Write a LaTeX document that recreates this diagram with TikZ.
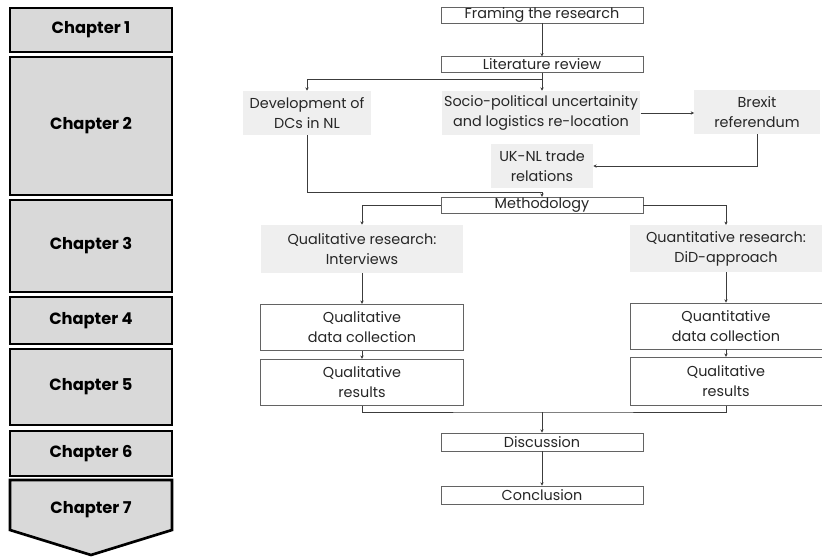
\documentclass[tikz,border=0pt]{standalone}
\usepackage{fontspec}
\setmainfont{Poppins}
\usetikzlibrary{positioning,arrows.meta,calc}
\definecolor{ChapGrey}{RGB}{217,217,217}
\definecolor{BoxGrey}{RGB}{239,239,239}
\definecolor{LineGrey}{RGB}{60,60,60}

\begin{document}
\begin{tikzpicture}[x=.75pt,y=-.75pt,
  chap/.style={draw=black,line width=2pt,fill=ChapGrey,line join=miter},
  chaplabel/.style={font=\bfseries\fontsize{12.2}{14}\selectfont},
  flowbox/.style={draw=LineGrey!80,line width=.6pt,fill=white,inner sep=0pt,align=center,
    font=\fontsize{10.8}{15}\selectfont,text=black!85},
  greybox/.style={fill=BoxGrey,inner sep=0pt,align=center,
    font=\fontsize{10.8}{15}\selectfont,text=black!85,minimum height=33pt},
  link/.style={draw=LineGrey,line width=.6pt},
  arr/.style={link,-{Stealth[length=2.5pt,width=2.5pt]}}]
\useasboundingbox (0,0) rectangle (822,557);

% chapters on the left
\foreach \n/\ya/\yb in {1/8/52,2/57/195,3/200/292,4/297/344,5/349/425,6/431/476}{
  \draw[chap] (10,\ya) rectangle (172,\yb);
  \node[chaplabel] (ch\n) at (91,{(\ya+\yb)/2}) {Chapter \n};
}
\draw[chap] (10,480) -- (172,480) -- (172,530) -- (91,555) -- (10,530) -- cycle;
\node[chaplabel] (ch7) at (91,510) {Chapter 7};

% flow chart
\node[flowbox,minimum width=151.5pt,minimum height=12pt] (frame) at (542,15) {Framing the research};
\node[flowbox,minimum width=151.5pt,minimum height=11.5pt] (lit) at (542,64.5) {Literature review};
\node[greybox,minimum width=96pt] (dev) at (307,113) {Development of\\DCs in NL};
\node[greybox,minimum width=149pt] (socio) at (541,113) {Socio-political uncertainity\\and logistics re-location};
\node[greybox,minimum width=94pt] (brexit) at (757,112) {Brexit\\referendum};
\node[greybox,minimum width=76.5pt] (uk) at (542,166) {UK-NL trade\\relations};
\node[flowbox,minimum width=151.5pt,minimum height=12.5pt] (meth) at (542,205.5) {Methodology};
\node[greybox,minimum width=152pt,minimum height=36pt] (qualr) at (362,249) {Qualitative research:\\Interviews};
\node[greybox,minimum width=144pt,minimum height=35pt] (quantr) at (726,248.5) {Quantitative research:\\DiD-approach};
\node[flowbox,minimum width=152pt,minimum height=35pt] (qualdc) at (362,327.5) {Qualitative\\data collection};
\node[flowbox,minimum width=144pt,minimum height=34.5pt] (quantdc) at (726,326) {Quantitative\\data collection};
\node[flowbox,minimum width=152pt,minimum height=35pt] (qualres) at (362,382.5) {Qualitative\\results};
\node[flowbox,minimum width=144pt,minimum height=36.5pt] (quantres) at (726,381.5) {Qualitative\\results};
\node[flowbox,minimum width=151.5pt,minimum height=13.5pt] (disc) at (542,442) {Discussion};
\node[flowbox,minimum width=151.5pt,minimum height=13.5pt] (conc) at (542,495) {Conclusion};

\coordinate (split) at (542,79);
\coordinate (join) at (542,412);

\draw[arr] (frame) -- (lit);
\draw[link] (lit) -- (split);
\draw[arr] (split) -| (dev.north);
\draw[arr] (split) -- (socio.north -| split);
\draw[arr] (socio.east) -- (socio.east -| brexit.west);
\draw[arr] (brexit.south) |- (uk.east);
\draw[arr] (dev.south) |- ($(meth.north)+(0,-4)$) -- (meth.north);
\draw[arr] (meth.west) -| (qualr.north);
\draw[arr] (meth.east) -| (quantr.north);
\draw[arr] (qualr) -- (qualdc);
\draw[arr] (qualdc) -- (qualres);
\draw[arr] (quantr) -- (quantdc);
\draw[arr] (quantdc) -- (quantres);
\draw[link] (qualres.south) |- (join) -| (quantres.south);
\draw[arr] (join) -- (disc);
\draw[arr] (disc) -- (conc);
\end{tikzpicture}
\end{document}
